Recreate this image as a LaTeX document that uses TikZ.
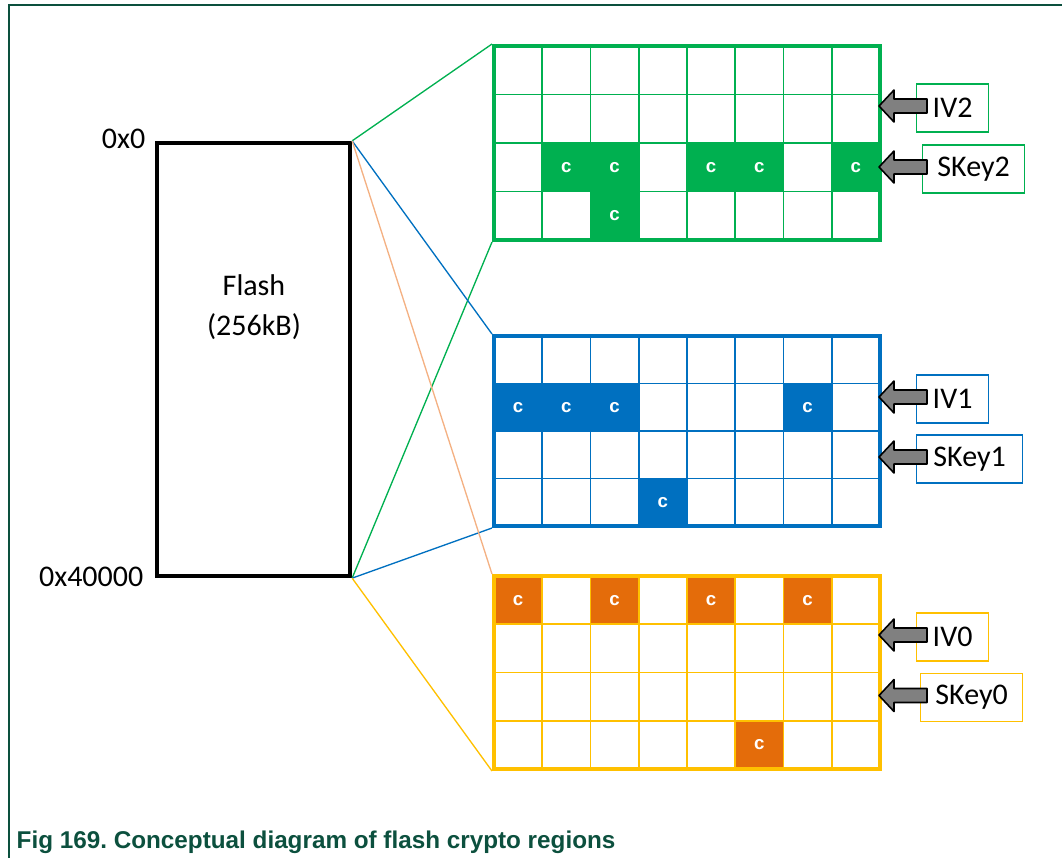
\documentclass[tikz,border=0pt]{standalone}
\usepackage{fontspec}
\newfontfamily\calibrifont{Carlito}
\newfontfamily\arialfont{Liberation Sans}
\usepackage{xcolor}
\usetikzlibrary{positioning,calc}
\definecolor{grnC}{RGB}{0,176,80}
\definecolor{bluC}{RGB}{0,112,192}
\definecolor{ylwC}{RGB}{255,192,0}
\definecolor{orgC}{RGB}{228,108,10}
\definecolor{orgLine}{RGB}{244,177,131}
\definecolor{capC}{RGB}{12,80,62}
\definecolor{arrGray}{RGB}{128,128,128}
\frenchspacing

\begin{document}
\begin{tikzpicture}[
  x=0.75pt, y=-0.75pt,
  font=\calibrifont\fontsize{22.5}{30}\selectfont,
  flashbox/.style={draw, line width=3.2pt, minimum width=144.75pt,
                   minimum height=324.75pt, inner sep=0pt},
  region/.style={draw=#1, line width=3pt, minimum width=289.5pt, inner sep=0pt},
  cellc/.style={fill=#1, text=white, minimum width=36.2pt, minimum height=36pt,
                inner sep=0pt, font=\arialfont\bfseries\fontsize{14}{14}\selectfont},
  gline/.style={draw=#1, line width=1.3pt},
  keylbl/.style={draw=#1, line width=0.9pt, anchor=west, minimum height=36pt,
                 inner xsep=6pt},
  keyarr/.style={draw=black, fill=arrGray, line width=1.2pt, line join=round},
  link/.style={draw=#1, line width=1pt},
]
\useasboundingbox (0,0) rectangle (1062,858);
% page frame
\draw[capC, line width=1.2pt] (1062,5) -- (9,5) -- (9,858);

% flash memory
\node[flashbox] (flash) at (253.5,359.5) {};
\node[align=center] (flashtxt) at (254,307) {Flash\\(256kB)};
\node[anchor=base east] (addr0) at (150,148) {0x0};
\node[anchor=base east] (addr1) at (148,586) {0x40000};

% region 2 (green)
\foreach \i/\j in {1/2,2/2,4/2,5/2,7/2,2/3}
  \node[cellc=grnC] (c2-\i-\j) at ({494+48.25*(\i+0.5)},{46+48.5*(\j+0.5)}) {c};
\foreach \i in {1,...,7}
  \draw[gline=grnC] ({494+48.25*\i},46) -- ({494+48.25*\i},240);
\foreach \j in {1,2,3}
  \draw[gline=grnC] (494,{46+48.5*\j}) -- (880,{46+48.5*\j});
\node[region=grnC, minimum height=145.5pt] (r2) at (687,143) {};

% region 1 (blue)
\foreach \i/\j in {0/1,1/1,2/1,6/1,3/3}
  \node[cellc=bluC] (c1-\i-\j) at ({494+48.25*(\i+0.5)},{336+47.5*(\j+0.5)}) {c};
\foreach \i in {1,...,7}
  \draw[gline=bluC] ({494+48.25*\i},336) -- ({494+48.25*\i},526);
\foreach \j in {1,2,3}
  \draw[gline=bluC] (494,{336+47.5*\j}) -- (880,{336+47.5*\j});
\node[region=bluC, minimum height=142.5pt] (r1) at (687,431) {};

% region 0 (yellow)
\foreach \i/\j in {0/0,2/0,4/0,6/0,5/3}
  \node[cellc=orgC] (c0-\i-\j) at ({494+48.25*(\i+0.5)},{576+48.25*(\j+0.5)}) {c};
\foreach \i in {1,...,7}
  \draw[gline=ylwC] ({494+48.25*\i},576) -- ({494+48.25*\i},769);
\foreach \j in {1,2,3}
  \draw[gline=ylwC] (494,{576+48.25*\j}) -- (880,{576+48.25*\j});
\node[region=ylwC, minimum height=144.75pt] (r0) at (687,672.5) {};

% flash to regions
\draw[link=grnC] (flash.north east) -- (r2.north west);
\draw[link=grnC] (flash.south east) -- (r2.south west);
\draw[link=bluC] (flash.north east) -- (r1.north west);
\draw[link=bluC] (flash.south east) -- (r1.south west);
\draw[link=orgLine] (flash.north east) -- (r0.north west);
\draw[link=ylwC] (flash.south east) -- (r0.south west);

% keys and IVs
\node[keylbl=grnC, minimum width=54pt] (iv2) at (916,108) {IV2};
\node[keylbl=grnC, minimum width=76.5pt] (skey2) at (922,169) {SKey2};
\node[keylbl=bluC, minimum width=54pt] (iv1) at (916,399) {IV1};
\node[keylbl=bluC, minimum width=79.5pt] (skey1) at (916,459) {SKey1};
\node[keylbl=ylwC, minimum width=54pt] (iv0) at (916,637) {IV0};
\node[keylbl=ylwC, minimum width=76.5pt] (skey0) at (920,697.5) {SKey0};
\foreach \r/\k in {r2/iv2,r2/skey2,r1/iv1,r1/skey1,r0/iv0,r0/skey0}
  \draw[keyarr] ($(\r.east |- \k.west)+(-3,-2)$) -- ++(15,-16) -- ++(0,9)
    -- ++(33,0) -- ++(0,14) -- ++(-33,0) -- ++(0,9) -- cycle;

% caption
\node[anchor=base west, text=capC, font=\arialfont\bfseries\fontsize{18.2}{22}\selectfont]
  (caption) at (12,848) {Fig 169. Conceptual diagram of flash crypto regions};
\end{tikzpicture}
\end{document}
